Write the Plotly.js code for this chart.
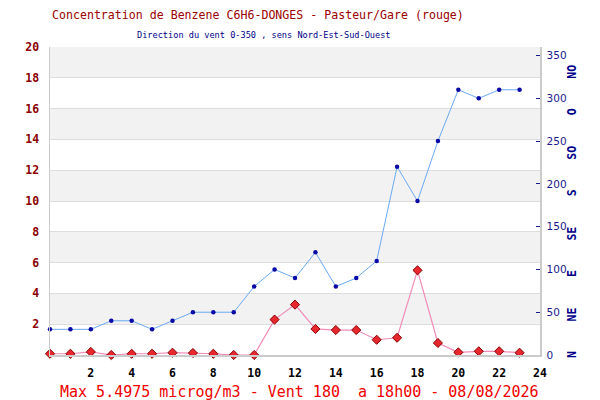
<!DOCTYPE html>
<html>
<head>
<meta charset="utf-8">
<script src="https://cdn.plot.ly/plotly-3.0.1.min.js"></script>
<style>html,body{margin:0;padding:0;background:#fff;}#chart{width:600px;height:400px;}</style>
</head>
<body>
<div id="chart"></div>
<script>
// Data
var hours = [0,1,2,3,4,5,6,7,8,9,10,11,12,13,14,15,16,17,18,19,20,21,22,23];
var benzene = [0.08,0.08,0.2,0.0,0.08,0.08,0.15,0.13,0.08,0.0,0.0,2.3,3.27,1.69,1.62,1.62,0.99,1.12,5.4975,0.78,0.17,0.24,0.24,0.15];
var windDir = [30,30,30,40,40,30,40,50,50,50,80,100,90,120,80,90,110,220,180,250,310,300,310,310];
var xTickVals = [2,4,6,8,10,12,14,16,18,20,22,24];
var yTickVals = [2,4,6,8,10,12,14,16,18,20];
var y2TickVals = [0,50,100,150,200,250,300,350];
var compassLabels = ["N","NE","E","SE","S","SO","O","NO"];
var bandStarts = [2,6,10,14,18];
var titleText = "Concentration de Benzene C6H6-DONGES - Pasteur/Gare (rouge)";
var subtitleText = "Direction du vent 0-350 , sens Nord-Est-Sud-Ouest";
var footerText = "Max 5.4975 microg/m3 - Vent 180&nbsp;&nbsp;a 18h00 - 08/08/2026";

var W = 600, H = 400, L = 50, R = 60, T = 47, B = 45;
var mono = "DejaVu Sans Mono, Liberation Mono, monospace";

var traces = [
  {
    x: hours, y: windDir, yaxis: "y2", type: "scatter", mode: "lines+markers",
    line: {color: "#6aaaf2", width: 1},
    marker: {color: "#0a0aa8", size: 4.5},
    cliponaxis: false, hoverinfo: "none"
  },
  {
    x: hours, y: benzene, yaxis: "y", type: "scatter", mode: "lines+markers",
    line: {color: "#f08cb8", width: 1.2},
    marker: {symbol: "diamond", color: "#e8262e", size: 7, line: {color: "#8b0000", width: 1}},
    cliponaxis: false, hoverinfo: "none"
  }
];

var shapes = bandStarts.map(function (b) {
  return {type: "rect", xref: "paper", yref: "y", x0: 0, x1: 1, y0: b, y1: b + 2,
          fillcolor: "#f2f2f2", line: {width: 0}, layer: "below"};
});

function px2paperX(px) { return (px - L) / (W - L - R); }
function px2paperY(py) { return (H - B - py) / (H - T - B); }

var annotations = [
  {text: titleText, xref: "paper", yref: "paper", x: px2paperX(258), y: px2paperY(15),
   xanchor: "center", yanchor: "middle", showarrow: false,
   font: {family: mono, size: 11.6, color: "#9a0000"}},
  {text: subtitleText, xref: "paper", yref: "paper", x: px2paperX(264), y: px2paperY(35),
   xanchor: "center", yanchor: "middle", showarrow: false,
   font: {family: mono, size: 8.6, color: "#000088"}},
  {text: footerText, xref: "paper", yref: "paper", x: px2paperX(299), y: px2paperY(392),
   xanchor: "center", yanchor: "middle", showarrow: false,
   font: {family: mono, size: 15, color: "#ee0000"}}
];
compassLabels.forEach(function (lab, i) {
  annotations.push({
    text: lab, xref: "paper", yref: "y2", x: px2paperX(572), y: i * 47.3,
    xanchor: "center", yanchor: "middle", showarrow: false, textangle: -90,
    font: {family: mono, size: 11.5, color: "#000088", weight: "bold"}
  });
});

var layout = {
  width: W, height: H,
  margin: {l: L, r: R, t: T, b: B, pad: 0},
  paper_bgcolor: "#ffffff", plot_bgcolor: "#ffffff",
  showlegend: false,
  xaxis: {
    range: [0, 24], tickvals: xTickVals, ticktext: xTickVals.map(String),
    showgrid: false, zeroline: false, showline: true, linecolor: "#cccccc", linewidth: 1.5,
    ticks: "", ticklabelstandoff: 7,
    tickfont: {family: mono, size: 11.5, color: "#000000", weight: "bold"},
    fixedrange: true
  },
  yaxis: {
    range: [0, 20], tickvals: yTickVals, ticktext: yTickVals.map(String),
    showgrid: true, gridcolor: "#dddddd", gridwidth: 1, zeroline: false,
    showline: true, linecolor: "#cccccc", linewidth: 1.5, ticks: "",
    ticklabelstandoff: 7,
    tickfont: {family: mono, size: 11.5, color: "#8b0000", weight: "bold"},
    fixedrange: true
  },
  yaxis2: {
    range: [0, 360], overlaying: "y", side: "right", tickvals: y2TickVals,
    ticktext: y2TickVals.map(String),
    showgrid: false, zeroline: false, showline: true, linecolor: "#cccccc", linewidth: 1.5,
    ticks: "inside", ticklen: 4, tickcolor: "#1a1a8c", tickwidth: 1,
    ticklabelstandoff: 3,
    tickfont: {family: "DejaVu Sans, sans-serif", size: 10.5, color: "#1a1a8c"},
    fixedrange: true
  },
  shapes: shapes,
  annotations: annotations
};

Plotly.newPlot("chart", traces, layout, {displayModeBar: false, staticPlot: true});
</script>
</body>
</html>
